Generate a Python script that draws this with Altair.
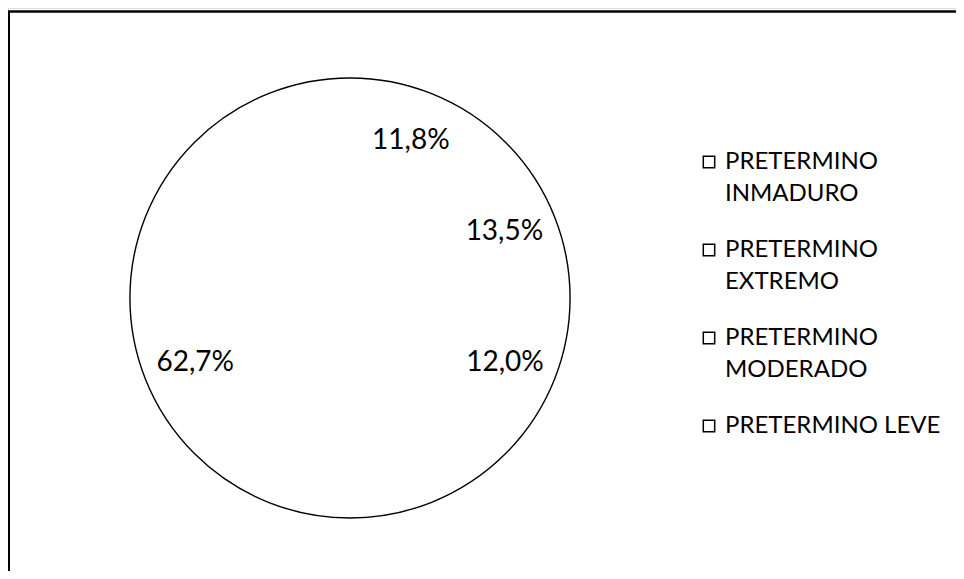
import math
import altair as alt
import pandas as pd

# ---- data ----
categories = ["PRETERMINO INMADURO", "PRETERMINO EXTREMO", "PRETERMINO MODERADO", "PRETERMINO LEVE"]
values = [11.8, 13.5, 12.0, 62.7]
labels = ["11,8%", "13,5%", "12,0%", "62,7%"]
order_idx = [0, 1, 2, 3]

df = pd.DataFrame({"cat": categories, "value": values, "label": labels, "idx": order_idx})

W, H = 948, 563
CX, CY, R = 342, 290, 220
FONT = "Lato"

base = alt.Chart(df)

arcs = base.mark_arc(outerRadius=R).encode(
    theta=alt.Theta("value:Q", stack=True),
    color=alt.Color(
        "cat:N",
        sort=categories,
        scale=alt.Scale(domain=categories, range=["white"] * len(categories)),
        legend=alt.Legend(
            title=None,
            orient="none",
            legendX=689,
            legendY=142,
            symbolType="square",
            symbolSize=130,
            symbolFillColor="white",
            symbolStrokeColor="black",
            symbolStrokeWidth=1.5,
            labelFont=FONT,
            labelFontSize=24,
            labelColor="black",
            labelLimit=400,
            labelOffset=4,
            rowPadding=32,
            labelExpr="datum.label == 'PRETERMINO LEVE' ? datum.label : split(datum.label, ' ')",
        ),
    ),
    order=alt.Order("idx:Q"),
    x=alt.value(CX),
    y=alt.value(CY),
)

outline = alt.Chart(pd.DataFrame({"k": [0]})).mark_arc(
    theta=0, theta2=2 * math.pi, outerRadius=R, fillOpacity=0, stroke="black", strokeWidth=1.4
).encode(x=alt.value(CX), y=alt.value(CY))

text = base.mark_text(radius=168, font=FONT, fontSize=28, color="black", align="center", baseline="middle").encode(
    theta=alt.Theta("value:Q", stack=True),
    detail="cat:N",
    order=alt.Order("idx:Q"),
    text="label:N",
    x=alt.value(CX),
    y=alt.value(CY),
)

frame_df = pd.DataFrame({"k": [0]})
top_line = alt.Chart(frame_df).mark_rule(color="black", strokeWidth=2.5).encode(
    x=alt.value(0), x2=alt.value(W), y=alt.value(3.5)
)
left_line = alt.Chart(frame_df).mark_rule(color="black", strokeWidth=2).encode(
    x=alt.value(1), y=alt.value(3), y2=alt.value(H)
)

chart = alt.layer(top_line, left_line, arcs, outline, text).properties(
    width=W, height=H, autosize=alt.AutoSizeParams(type="none"), padding=0
).configure_view(strokeWidth=0).configure(style={"guide-label": {"lineHeight": 32}})

chart.save("out.html", embed_options={"renderer": "svg", "actions": False})
